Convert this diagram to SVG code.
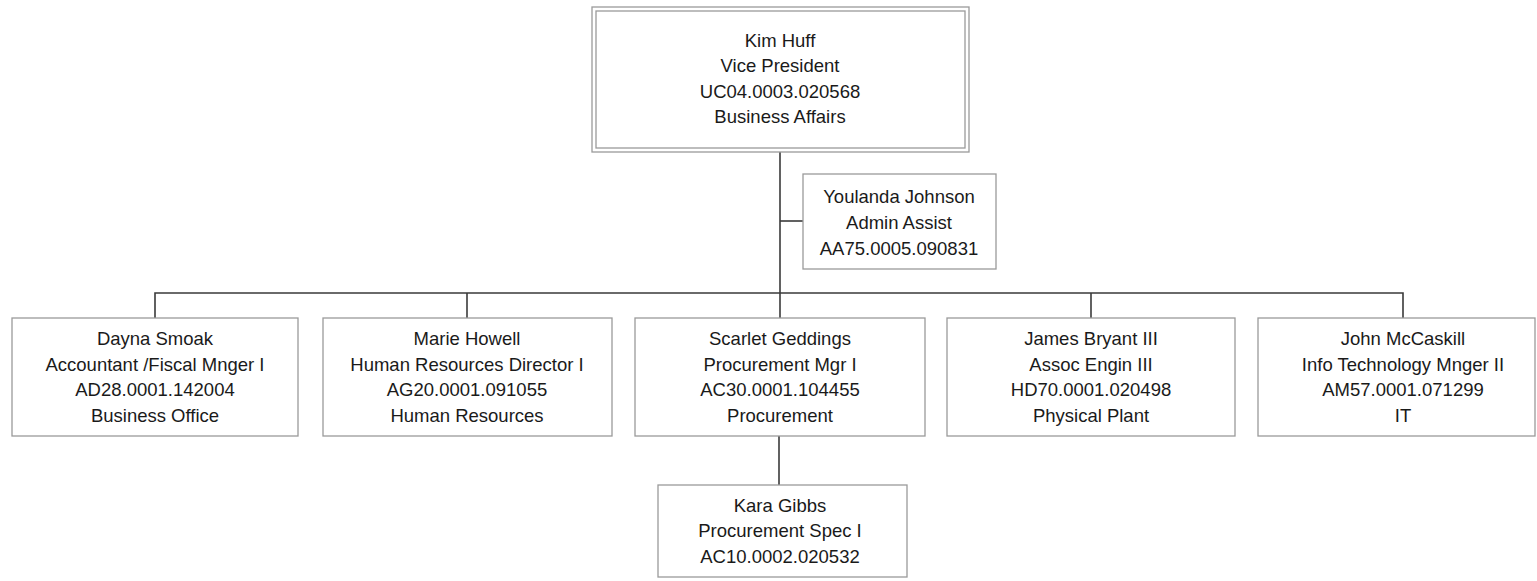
<svg xmlns="http://www.w3.org/2000/svg" width="1537" height="581" viewBox="0 0 1537 581">
<style>
  .box { fill: #ffffff; stroke: #9a9a9a; stroke-width: 1.3; }
  .t { font-family: "Liberation Sans", Arial, sans-serif; font-size: 18.5px; fill: #1a1a1a; text-anchor: middle; }
  .conn { stroke: #3a3a3a; stroke-width: 1.6; fill: none; }
</style>
<rect width="1537" height="581" fill="#ffffff"/>
<g id="connectors">
  <path class="conn" d="M780 152 V318"/>
  <path class="conn" d="M780 221 H803"/>
  <path class="conn" d="M155 318 V293 H1403 V318"/>
  <path class="conn" d="M467 293 V318"/>
  <path class="conn" d="M1091 293 V318"/>
  <path class="conn" d="M779 436 V485"/>
</g>
<g id="kim-huff">
  <rect class="box" x="592" y="7" width="377" height="145"/>
  <rect class="box" x="596" y="11" width="369" height="137"/>
  <text class="t" x="780" y="47">Kim Huff</text>
  <text class="t" x="780" y="72">Vice President</text>
  <text class="t" x="780" y="98">UC04.0003.020568</text>
  <text class="t" x="780" y="123">Business Affairs</text>
</g>
<g id="youlanda-johnson">
  <rect class="box" x="803" y="174" width="193" height="95"/>
  <text class="t" x="899" y="203">Youlanda Johnson</text>
  <text class="t" x="899" y="229">Admin Assist</text>
  <text class="t" x="899" y="255">AA75.0005.090831</text>
</g>
<g id="dayna-smoak">
  <rect class="box" x="12" y="318" width="286" height="118"/>
  <text class="t" x="155" y="345">Dayna Smoak</text>
  <text class="t" x="155" y="371">Accountant /Fiscal Mnger I</text>
  <text class="t" x="155" y="396">AD28.0001.142004</text>
  <text class="t" x="155" y="422">Business Office</text>
</g>
<g id="marie-howell">
  <rect class="box" x="323" y="318" width="289" height="118"/>
  <text class="t" x="467" y="345">Marie Howell</text>
  <text class="t" x="467" y="371">Human Resources Director I</text>
  <text class="t" x="467" y="396">AG20.0001.091055</text>
  <text class="t" x="467" y="422">Human Resources</text>
</g>
<g id="scarlet-geddings">
  <rect class="box" x="635" y="318" width="290" height="118"/>
  <text class="t" x="780" y="345">Scarlet Geddings</text>
  <text class="t" x="780" y="371">Procurement Mgr I</text>
  <text class="t" x="780" y="396">AC30.0001.104455</text>
  <text class="t" x="780" y="422">Procurement</text>
</g>
<g id="james-bryant">
  <rect class="box" x="947" y="318" width="288" height="118"/>
  <text class="t" x="1091" y="345">James Bryant III</text>
  <text class="t" x="1091" y="371">Assoc Engin III</text>
  <text class="t" x="1091" y="396">HD70.0001.020498</text>
  <text class="t" x="1091" y="422">Physical Plant</text>
</g>
<g id="john-mccaskill">
  <rect class="box" x="1258" y="318" width="277" height="118"/>
  <text class="t" x="1403" y="345">John McCaskill</text>
  <text class="t" x="1403" y="371">Info Technology Mnger II</text>
  <text class="t" x="1403" y="396">AM57.0001.071299</text>
  <text class="t" x="1403" y="422">IT</text>
</g>
<g id="kara-gibbs">
  <rect class="box" x="658" y="485" width="249" height="92"/>
  <text class="t" x="780" y="512">Kara Gibbs</text>
  <text class="t" x="780" y="537">Procurement Spec I</text>
  <text class="t" x="780" y="563">AC10.0002.020532</text>
</g>
</svg>
